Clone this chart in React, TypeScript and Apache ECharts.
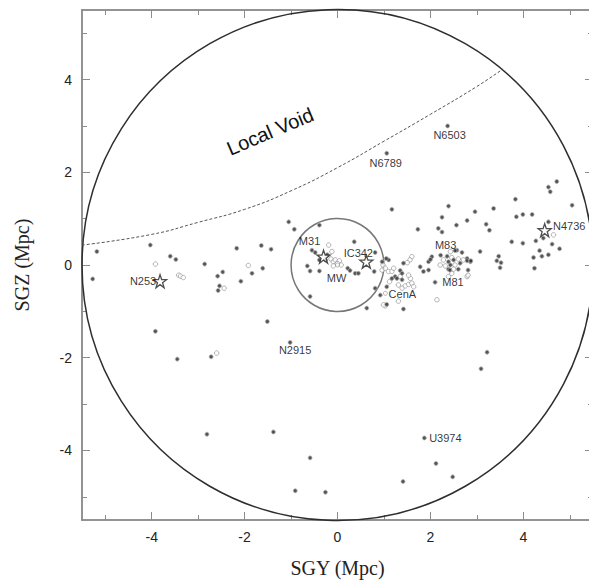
import { useEffect, useRef } from "react";
import * as echarts from "echarts";

// ---------- axes ----------
const AXIS_MIN = -5.5;
const AXIS_MAX = 5.5;
const MAJOR_TICKS = [-4, -2, 0, 2, 4];
const MINOR_TICKS = [-5, -3, -1, 1, 3, 5];
const X_TITLE = "SGY (Mpc)";
const Y_TITLE = "SGZ (Mpc)";

// ---------- circles: [centerY, centerZ, radius] ----------
const CIRCLES = [
  [0, 0, 5.5],
  [0, 0, 1.0],
];

// ---------- Local Void boundary ----------
const VOID_X = [-5.5, -4, -3, -2, -1, 0, 1, 2, 3, 3.55];
const VOID_Z = [0.43, 0.66, 0.92, 1.2, 1.6, 2.1, 2.67, 3.25, 3.85, 4.22];
const VOID_LABEL = "Local Void";
const VOID_LABEL_AT = [-1.45, 2.88];

// ---------- galaxies (SGY, SGZ) ----------
const westFilled = [
  [-5.18, 0.29], [-4.03, 0.43], [-5.27, -0.3], [-3.6, 0.19], [-3.48, 0.12], [-2.86, 0.02],
  [-2.17, 0.36], [-1.64, 0.42], [-1.43, 0.34], [-1.84, -0.18], [-1.61, -0.07], [-2.08, -0.35],
  [-2.58, -0.24], [-2.47, -0.15], [-2.54, -0.45], [-2.57, -0.55], [-1.51, -1.22],
];
const westOpen = [
  [-3.92, 0.02], [-3.42, -0.22], [-3.38, -0.24], [-3.32, -0.27], [-1.92, -0.01], [-2.44, -0.5],
];
const localFilled = [
  [-1.05, 0.93], [-0.93, 0.77], [-0.65, -0.02], [-0.39, 0.86], [0.36, 0.5], [1.17, 1.2],
  [1.73, 0.77], [-0.55, 0.32], [-0.48, 0.27], [-0.22, 0.22], [-0.26, 0.11], [-0.39, 0.11],
  [-0.59, -0.13], [-0.39, -0.13], [0.22, -0.07], [0.27, -0.12], [0.38, -0.18], [0.45, -0.18],
  [0.81, 0.27], [0.96, 0.07], [1.1, 0.11], [-0.59, -0.68], [0.63, -0.93], [1.42, -0.95],
];
const localOpen = [
  [-0.19, 0.43], [-0.12, 0.29], [-0.14, 0.13], [-0.09, 0.07], [-0.05, 0.11], [0.04, 0.09],
  [0.0, 0.03], [0.08, 0.0], [-0.09, -0.02], [1.03, -0.88],
];
const cenAFilled = [
  [1.05, 0.14], [0.79, -0.14], [1.24, -0.25], [1.28, -0.29], [1.39, -0.32], [1.17, -0.29],
  [1.06, -0.47], [0.81, -0.5], [0.92, -0.65], [1.06, -0.85], [1.42, 0.04], [1.35, -0.12],
  [1.39, -0.18], [1.78, -0.04], [1.85, -0.14], [1.96, -0.11], [2.03, 0.18], [1.96, 0.07],
  [2.0, 0.12],
];
const cenAOpen = [
  [0.98, 0.0], [0.96, -0.11], [1.03, -0.07], [1.1, -0.14], [1.17, -0.14], [1.21, -0.07],
  [1.35, -0.25], [1.12, -0.36], [1.31, -0.43], [0.99, -0.86], [1.31, -0.78], [1.39, -0.5],
  [1.46, -0.45], [1.53, -0.42], [1.6, -0.39], [1.64, -0.47], [1.57, -0.29], [1.53, -0.22],
  [1.6, 0.18], [1.56, 0.11], [1.5, 0.05],
];
const m81Filled = [
  [2.17, 0.79], [2.25, 0.71], [3.07, 0.29], [2.57, 0.32], [2.79, 0.14], [2.86, 0.07],
  [2.1, -0.37], [2.53, 0.31], [2.68, 0.27], [2.36, 0.19], [2.39, 0.07], [2.5, 0.11],
  [2.79, 0.09], [2.87, 0.09], [2.43, 0.0], [2.64, 0.04], [2.39, -0.09], [2.6, -0.09],
  [2.81, -0.11],
];
const m81Open = [
  [2.79, -0.25], [2.14, -0.75], [2.43, 0.29], [2.46, 0.16], [2.28, 0.11], [2.6, 0.13],
  [2.71, 0.11], [2.21, 0.0], [2.32, -0.02], [2.53, 0.0], [2.5, -0.09], [2.46, -0.18],
  [2.39, -0.25], [2.81, -0.22],
];
const eastFilled = [
  [2.39, 1.27], [3.36, 1.22], [2.96, 1.15], [2.25, 1.03], [2.79, 0.96], [3.2, 0.88],
  [3.27, 0.75], [2.56, 0.86], [3.83, 1.42], [3.85, 1.04], [3.99, 1.09], [4.19, 1.09],
  [4.54, 1.68], [4.58, 1.58], [4.72, 1.8], [5.05, 1.29], [4.54, 0.93], [3.75, 0.5],
  [3.99, 0.47], [4.27, 0.52], [4.43, 0.58], [4.62, 0.45], [4.78, 0.35], [4.35, 0.31],
  [4.4, 0.19], [4.22, 0.16], [4.54, 0.22], [4.24, -0.07], [3.47, 0.19], [3.43, 0.09],
  [3.52, 0.05], [3.5, -0.06],
];
const eastOpen = [[4.65, 0.65]];
const southFilled = [
  [-3.92, -1.43], [-3.45, -2.03], [-2.72, -1.98], [3.22, -1.88], [3.09, -2.24], [-2.81, -3.65],
  [-1.38, -3.6], [-0.59, -4.16], [-0.91, -4.87], [-0.26, -4.9], [2.12, -4.28], [1.41, -4.67],
  [2.48, -4.57],
];
const southOpen = [[-2.6, -1.9]];

// ---------- named galaxies ----------
const GALAXY_NAMES = ["N6503", "N6789", "M31", "IC342", "MW", "CenA", "M83", "M81", "N4736", "N253", "N2915", "U3974"];
const GALAXY_Y = [2.37, 1.06, -0.3, 0.62, 0, 1.03, 2.22, 2.42, 4.46, -3.82, -1.02, 1.87];
const GALAXY_Z = [3.0, 2.41, 0.18, 0.07, 0, -0.61, 0.21, -0.11, 0.75, -0.35, -1.67, -3.73];
const GALAXY_KIND = ["dot", "dot", "star", "star", "open", "open", "dot", "dot", "star", "star", "dot", "dot"];

// label offsets (px, label centre relative to marker)
const LABEL_OFFSET: Record<string, number[]> = {
  N6503: [2, 9.5],
  N6789: [-1, 9.5],
  M31: [-14, -16],
  IC342: [-8, -9],
  MW: [-1, 13],
  CenA: [17, 0.7],
  M83: [5, -10],
  M81: [3, 12],
  N4736: [24.5, -4.5],
  N253: [-17, 0],
  N2915: [5, 8],
  U3974: [21, 0],
};

const STAR_PATH =
  "path://M50,2 L61.8,36.2 L97.6,36.2 L68.6,57.4 L79.6,91.6 L50,70.4 L20.4,91.6 L31.4,57.4 L2.4,36.2 L38.2,36.2 Z";

export default function App() {
  const ref = useRef<HTMLDivElement>(null);

  useEffect(() => {
    if (!ref.current) return;
    const chart = echarts.init(ref.current, null, { renderer: "svg" });

    const axisColor = "#8c8c8c";
    const sans = "'Liberation Sans', Arial, Helvetica, sans-serif";
    const serif = "'Liberation Serif', 'Times New Roman', serif";

    const filledStyle = { color: "#2a2a2a", borderColor: "#b4b4b4", borderWidth: 1 };
    const openStyle = { color: "#ffffff", borderColor: "#8a8a8a", borderWidth: 0.8 };

    const mkAxis = (
      grid: number,
      pos: string,
      ticks: number[],
      len: number,
      showLabels: boolean,
      name?: string,
      nameGap?: number
    ) => ({
      type: "value",
      gridIndex: grid,
      position: pos,
      min: AXIS_MIN,
      max: AXIS_MAX,
      axisLine: { show: true, onZero: false, lineStyle: { color: axisColor, width: 1.5 } },
      axisTick: {
        show: true,
        inside: true,
        length: len,
        customValues: ticks,
        lineStyle: { color: axisColor, width: 1 },
      },
      axisLabel: {
        show: showLabels,
        customValues: ticks,
        fontSize: 14,
        fontFamily: sans,
        color: "#222",
        margin: 10,
      },
      splitLine: { show: false },
      name: name || "",
      nameLocation: "middle",
      nameGap: nameGap || 0,
      nameTextStyle: { fontFamily: serif, fontSize: 20, color: "#222" },
    });

    const gridRect = { left: 82, top: 10, width: 511, height: 510 };

    const all = (arrs: number[][][]) => arrs.reduce((acc, a) => acc.concat(a), [] as number[][]);

    const namedData = GALAXY_NAMES.map((n, i) => {
      const kind = GALAXY_KIND[i];
      return {
        name: n,
        value: [GALAXY_Y[i], GALAXY_Z[i]],
        symbol: kind === "star" ? STAR_PATH : "circle",
        symbolSize: kind === "star" ? 13 : 4,
        itemStyle:
          kind === "star"
            ? { color: "#ffffff", borderColor: "#222222", borderWidth: 1.3 }
            : kind === "open"
            ? openStyle
            : filledStyle,
        label: {
          show: true,
          position: "inside",
          offset: LABEL_OFFSET[n],
          formatter: n,
          fontSize: 11,
          fontFamily: sans,
          color: "#000",
        },
      };
    });

    chart.setOption({
      animation: false,
      backgroundColor: "#ffffff",
      grid: [gridRect, gridRect],
      xAxis: [
        mkAxis(0, "bottom", MAJOR_TICKS, 8, true, X_TITLE, 38),
        mkAxis(0, "top", MAJOR_TICKS, 8, false),
        mkAxis(1, "bottom", MINOR_TICKS, 5, false),
        mkAxis(1, "top", MINOR_TICKS, 5, false),
      ],
      yAxis: [
        mkAxis(0, "left", MAJOR_TICKS, 8, true, Y_TITLE, 50),
        mkAxis(0, "right", MAJOR_TICKS, 8, false),
        mkAxis(1, "left", MINOR_TICKS, 5, false),
        mkAxis(1, "right", MINOR_TICKS, 5, false),
      ],
      series: [
        {
          type: "custom",
          xAxisIndex: 0,
          yAxisIndex: 0,
          silent: true,
          z: 1,
          data: CIRCLES,
          renderItem: (params: any, api: any) => {
            const c = api.coord([api.value(0), api.value(1)]);
            const r = api.size([api.value(2), 0])[0];
            const outer = params.dataIndex === 0;
            return {
              type: "circle",
              shape: { cx: c[0], cy: c[1], r },
              style: {
                fill: "none",
                stroke: outer ? "#2e2e2e" : "#777777",
                lineWidth: 1.5,
              },
            };
          },
        },
        {
          type: "line",
          xAxisIndex: 0,
          yAxisIndex: 0,
          silent: true,
          z: 1,
          smooth: true,
          symbol: "none",
          data: VOID_X.map((x, i) => [x, VOID_Z[i]]),
          lineStyle: { color: "#555", width: 1, type: [3, 2] },
        },
        {
          type: "scatter",
          xAxisIndex: 0,
          yAxisIndex: 0,
          silent: true,
          z: 3,
          symbol: "circle",
          symbolSize: 4.5,
          itemStyle: openStyle,
          data: all([westOpen, localOpen, cenAOpen, m81Open, eastOpen, southOpen]),
        },
        {
          type: "scatter",
          xAxisIndex: 0,
          yAxisIndex: 0,
          silent: true,
          z: 4,
          symbol: "circle",
          symbolSize: 4,
          itemStyle: filledStyle,
          data: all([westFilled, localFilled, cenAFilled, m81Filled, eastFilled, southFilled]),
        },
        {
          type: "scatter",
          xAxisIndex: 0,
          yAxisIndex: 0,
          silent: true,
          z: 5,
          data: namedData,
        },
      ],
    });

    const p = chart.convertToPixel({ gridIndex: 0 }, VOID_LABEL_AT) as number[];
    chart.setOption({
      graphic: [
        {
          type: "text",
          x: p[0],
          y: p[1],
          rotation: (23 * Math.PI) / 180,
          silent: true,
          style: {
            text: VOID_LABEL,
            fontSize: 20,
            fontFamily: sans,
            fill: "#111",
            align: "center",
            verticalAlign: "middle",
            textAlign: "center",
            textVerticalAlign: "middle",
          },
        },
      ],
    });

    return () => chart.dispose();
  }, []);

  return (
    <div style={{ position: "fixed", left: 0, top: 0, width: 589, height: 583, overflow: "hidden", background: "#fff" }}>
      <div ref={ref} style={{ width: 600, height: 583 }} />
    </div>
  );
}
